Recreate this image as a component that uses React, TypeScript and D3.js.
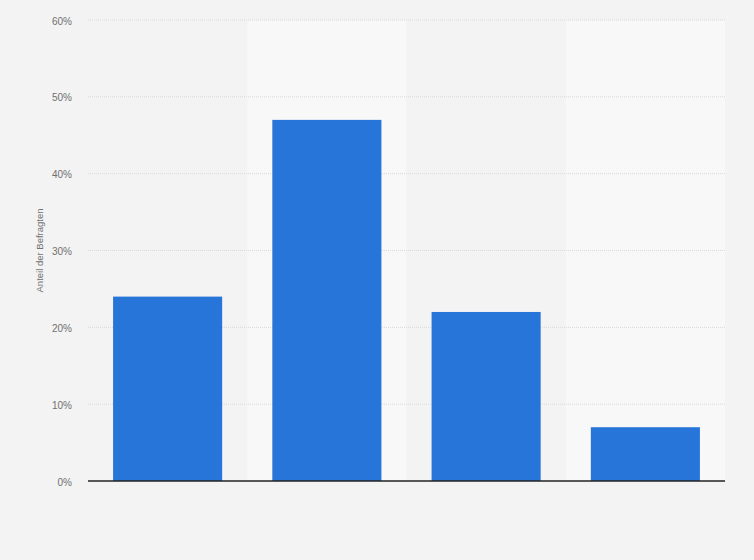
import * as d3 from "d3";

const categories = ["Antwort 1", "Antwort 2", "Antwort 3", "Antwort 4"];
const shares = [24, 47, 22, 7];
const yTicks = [0, 10, 20, 30, 40, 50, 60];

const WIDTH = 754;
const HEIGHT = 560;
const margin = { top: 20, right: 29, bottom: 79, left: 88 };

export default function App() {
  const x = d3
    .scaleBand<string>()
    .domain(categories)
    .range([margin.left, WIDTH - margin.right])
    .padding(0);
  const y = d3
    .scaleLinear()
    .domain([0, 60])
    .range([HEIGHT - margin.bottom, margin.top]);

  const barW = x.bandwidth() * 0.685;
  const x0 = margin.left;
  const x1 = WIDTH - margin.right;

  return (
    <svg
      width={WIDTH}
      height={HEIGHT}
      style={{ position: "absolute", left: 0, top: 0, display: "block" }}
      fontFamily="'Liberation Sans', Arial, sans-serif"
    >
      <rect width={WIDTH} height={HEIGHT} fill="#f3f3f3" />
      {categories.map((c, i) =>
        i % 2 === 1 ? (
          <rect
            key={"band" + c}
            x={x(c)}
            y={y(60)}
            width={x.bandwidth()}
            height={y(0) - y(60)}
            fill="#f8f8f8"
          />
        ) : null
      )}
      {yTicks.map((t) => (
        <g key={t}>
          {t > 0 && (
            <line
              x1={x0}
              x2={x1}
              y1={y(t)}
              y2={y(t)}
              stroke="#d9d9d9"
              strokeWidth={1}
              strokeDasharray="1,1"
            />
          )}
          <text
            x={72}
            y={y(t) + 1}
            dy="0.35em"
            textAnchor="end"
            fontSize={10}
            fill="#707070"
          >
            {t}%
          </text>
        </g>
      ))}
      {categories.map((c, i) => (
        <rect
          key={c}
          x={(x(c) ?? 0) + (x.bandwidth() - barW) / 2}
          y={y(shares[i])}
          width={barW}
          height={y(0) - y(shares[i])}
          fill="#2775d9"
        />
      ))}
      <line
        x1={x0}
        x2={x1}
        y1={y(0)}
        y2={y(0)}
        stroke="#222"
        strokeWidth={1.5}
      />
      <text
        transform={`translate(43,${(y(0) + y(60)) / 2}) rotate(-90)`}
        textAnchor="middle"
        fontSize={9.5}
        fill="#707070"
      >
        Anteil der Befragten
      </text>
    </svg>
  );
}
